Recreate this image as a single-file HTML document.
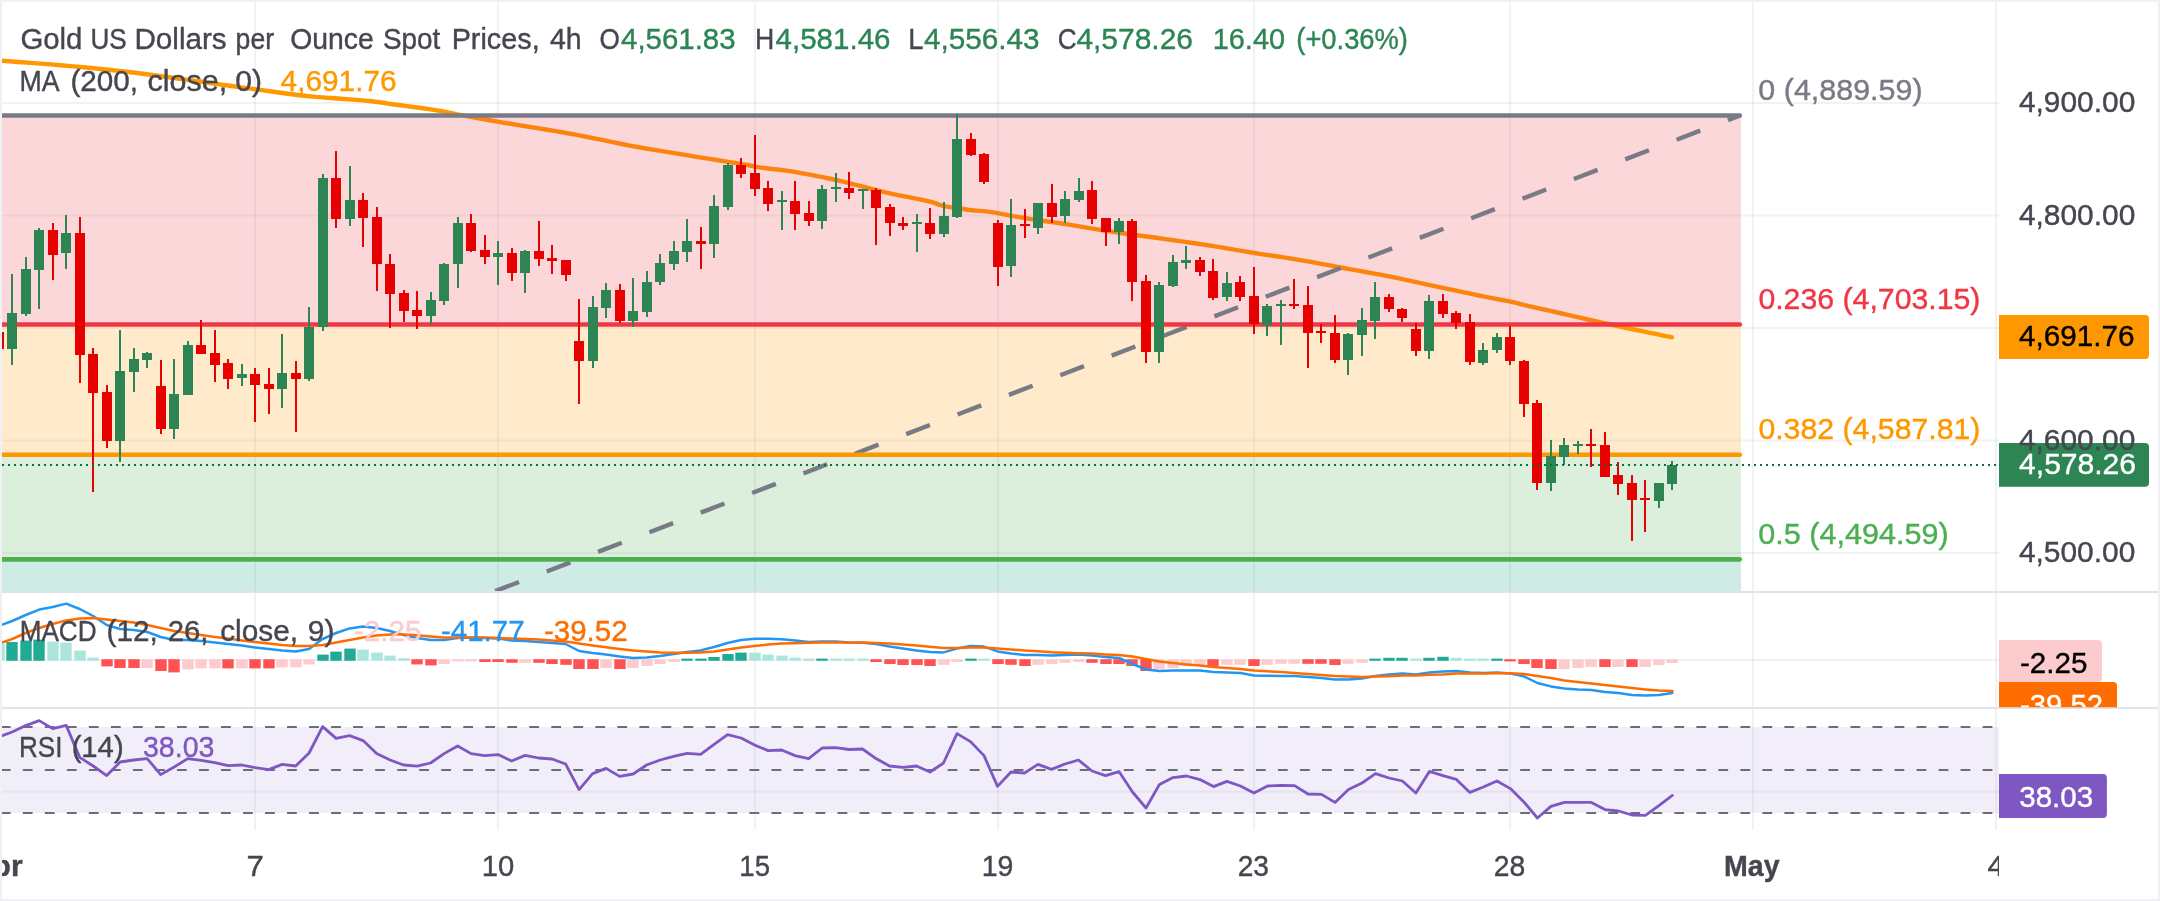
<!DOCTYPE html>
<html><head><meta charset="utf-8"><title>XAUUSD chart</title>
<style>html,body{margin:0;padding:0;background:#fff;width:2160px;height:901px}svg{will-change:transform}</style></head>
<body>
<svg width="2160" height="901" viewBox="0 0 2160 901" style="display:block;font-family:'Liberation Sans',sans-serif">
<defs>
<clipPath id="cMain"><rect x="2" y="2" width="1997" height="590"/></clipPath>
<clipPath id="cMacd"><rect x="2" y="593" width="1997" height="114.5"/></clipPath>
<clipPath id="cMacdAx"><rect x="1999" y="593" width="159" height="114.2"/></clipPath>
<clipPath id="cRsi"><rect x="2" y="709" width="1997" height="121"/></clipPath>
<clipPath id="cTime"><rect x="2" y="830" width="1997" height="69"/></clipPath>
</defs>
<rect x="0" y="0" width="2160" height="901" fill="#eff1f5"/>
<rect x="2" y="2" width="2156" height="897" fill="#ffffff"/>
<rect x="254" y="2" width="2" height="828" fill="rgba(30,60,70,0.062)"/>
<rect x="497" y="2" width="2" height="828" fill="rgba(30,60,70,0.062)"/>
<rect x="754" y="2" width="2" height="828" fill="rgba(30,60,70,0.062)"/>
<rect x="997" y="2" width="2" height="828" fill="rgba(30,60,70,0.062)"/>
<rect x="1253" y="2" width="2" height="828" fill="rgba(30,60,70,0.062)"/>
<rect x="1509" y="2" width="2" height="828" fill="rgba(30,60,70,0.062)"/>
<rect x="1752" y="2" width="2" height="828" fill="rgba(30,60,70,0.062)"/>
<rect x="1995" y="2" width="2" height="828" fill="rgba(30,60,70,0.062)"/>
<rect x="2" y="102.0" width="1997" height="2" fill="rgba(30,60,70,0.062)"/>
<rect x="2" y="214.5" width="1997" height="2" fill="rgba(30,60,70,0.062)"/>
<rect x="2" y="327.0" width="1997" height="2" fill="rgba(30,60,70,0.062)"/>
<rect x="2" y="439.5" width="1997" height="2" fill="rgba(30,60,70,0.062)"/>
<rect x="2" y="552.0" width="1997" height="2" fill="rgba(30,60,70,0.062)"/>
<rect x="2" y="659" width="1997" height="2" fill="rgba(30,60,70,0.062)"/>
<rect x="2" y="790.6" width="1997" height="2" fill="rgba(30,60,70,0.062)"/>
<g clip-path="url(#cMain)">
<polyline points="-3.0,60.3 -1.5,60.4 0.3,60.6 2.5,60.7 5.5,61.0 9.6,61.3 15.0,61.7 22.1,62.2 30.8,62.9 40.5,63.6 50.7,64.4 60.9,65.3 70.6,66.1 79.8,66.9 89.1,67.8 98.3,68.7 107.5,69.7 116.8,70.6 126.0,71.7 135.3,72.8 144.6,74.0 153.9,75.3 163.2,76.5 172.4,77.8 181.7,79.1 191.4,80.4 201.5,81.8 211.7,83.3 221.3,84.6 229.9,85.8 237.0,86.8 241.8,87.5 244.5,87.8 246.2,88.1 247.9,88.3 250.5,88.6 255.0,89.2 261.7,90.1 269.7,91.2 278.7,92.5 288.1,93.8 297.6,95.0 306.7,96.0 315.8,96.9 325.4,97.6 335.0,98.3 344.2,99.0 352.5,99.6 359.4,100.1 364.8,100.6 368.9,101.0 372.2,101.3 374.9,101.7 377.4,102.0 380.0,102.3 382.2,102.6 383.7,102.8 385.0,103.0 386.6,103.3 389.0,103.7 392.8,104.2 398.4,105.0 405.4,105.9 413.3,107.0 421.4,108.0 429.1,109.1 435.6,110.1 440.8,111.0 445.3,111.8 449.2,112.6 453.1,113.4 457.3,114.3 462.2,115.2 468.1,116.3 474.6,117.5 481.5,118.8 488.3,120.0 494.6,121.1 500.0,122.1 504.0,122.8 506.7,123.2 508.9,123.5 511.4,123.9 514.8,124.5 520.0,125.3 527.2,126.5 535.9,127.9 545.6,129.5 555.8,131.2 565.9,133.0 575.6,134.7 584.9,136.5 594.1,138.3 603.4,140.2 612.6,142.2 621.8,144.0 631.1,145.8 640.4,147.5 649.6,149.1 658.9,150.6 668.2,152.2 677.4,153.7 686.7,155.2 696.4,156.8 706.6,158.4 716.8,160.0 726.5,161.6 735.1,162.9 742.2,164.1 747.2,165.0 750.3,165.6 752.4,166.0 754.2,166.4 756.5,166.8 760.0,167.4 764.7,168.0 769.9,168.7 775.5,169.3 781.6,170.0 787.9,170.9 794.4,171.9 801.2,173.1 808.5,174.4 816.0,175.8 823.7,177.4 831.4,179.0 838.9,180.6 846.3,182.4 853.7,184.3 861.1,186.2 868.5,188.2 875.9,190.1 883.3,191.9 891.0,193.6 899.2,195.3 907.3,196.9 915.0,198.4 922.0,199.8 927.8,201.1 932.1,202.2 935.0,203.1 937.1,203.9 939.1,204.7 941.3,205.4 944.4,206.1 948.5,206.9 953.2,207.6 958.2,208.4 963.3,209.0 968.0,209.7 972.2,210.2 975.6,210.6 978.3,210.8 980.7,210.9 983.2,211.1 986.2,211.4 990.0,211.9 994.7,212.7 999.9,213.6 1005.5,214.6 1011.6,215.8 1017.9,216.9 1024.4,218.0 1031.2,219.1 1038.5,220.2 1046.0,221.3 1053.7,222.4 1061.4,223.5 1068.9,224.7 1076.3,225.9 1083.7,227.1 1091.1,228.3 1098.5,229.6 1105.9,230.8 1113.3,231.9 1120.7,233.0 1128.1,234.0 1135.5,235.0 1143.0,236.0 1150.4,237.0 1157.8,238.0 1165.5,239.1 1173.6,240.2 1181.7,241.4 1189.4,242.5 1196.3,243.5 1202.2,244.4 1206.5,245.0 1209.5,245.5 1211.7,245.8 1213.8,246.2 1216.4,246.6 1220.0,247.2 1224.7,248.0 1229.9,248.9 1235.5,249.8 1241.6,250.9 1247.9,251.9 1254.4,253.0 1261.2,254.1 1268.5,255.1 1276.0,256.2 1283.7,257.4 1291.4,258.6 1298.9,259.8 1306.3,261.1 1313.7,262.4 1321.1,263.8 1328.5,265.2 1335.9,266.6 1343.3,268.0 1350.7,269.3 1358.1,270.7 1365.5,272.0 1373.0,273.3 1380.4,274.7 1387.8,276.1 1395.5,277.7 1403.6,279.4 1411.7,281.1 1419.4,282.8 1426.3,284.3 1432.2,285.6 1436.5,286.5 1439.5,287.2 1441.7,287.6 1443.8,288.1 1446.4,288.6 1450.0,289.4 1454.8,290.4 1460.5,291.6 1466.6,292.9 1472.8,294.2 1478.9,295.5 1484.4,296.6 1489.5,297.6 1494.6,298.6 1499.4,299.5 1504.0,300.4 1508.3,301.2 1512.2,302.0 1515.3,302.7 1517.6,303.2 1519.5,303.8 1521.7,304.3 1524.6,305.1 1528.9,306.1 1534.7,307.4 1541.6,309.0 1549.4,310.7 1557.5,312.5 1565.6,314.4 1573.3,316.1 1580.7,317.8 1588.1,319.5 1595.5,321.2 1603.0,322.8 1610.4,324.5 1617.8,326.1 1625.6,327.8 1633.9,329.5 1642.2,331.2 1650.0,332.8 1656.8,334.2 1662.2,335.3 1665.9,336.1 1668.4,336.5 1669.8,336.8 1670.7,337.0 1671.2,337.1 1671.9,337.2" fill="none" stroke="#ff9800" stroke-width="4.4" stroke-linejoin="round" stroke-linecap="round"/>
<rect x="0" y="115.5" width="1741" height="208.95" fill="#f23645" fill-opacity="0.2"/>
<rect x="0" y="324.45" width="1741" height="130.25" fill="#ff9800" fill-opacity="0.2"/>
<rect x="0" y="454.7" width="1741" height="104.65000000000003" fill="#4caf50" fill-opacity="0.2"/>
<rect x="0" y="559.35" width="1741" height="40.64999999999998" fill="#089981" fill-opacity="0.2"/>
<line x1="392.62" y1="630.33" x2="1740" y2="115.5" stroke="#787b86" stroke-width="4.4" stroke-dasharray="25.37 29.61"/>
<line x1="-5" y1="115.5" x2="1739.8" y2="115.5" stroke="#787b86" stroke-width="4.6" stroke-linecap="round"/>
<line x1="-5" y1="324.45" x2="1739.8" y2="324.45" stroke="#f23645" stroke-width="4.6" stroke-linecap="round"/>
<line x1="-5" y1="454.7" x2="1739.8" y2="454.7" stroke="#ff9800" stroke-width="4.6" stroke-linecap="round"/>
<line x1="-5" y1="559.35" x2="1739.8" y2="559.35" stroke="#4caf50" stroke-width="4.6" stroke-linecap="round"/>
<rect x="-2" y="330.0" width="2" height="22.0" fill="#e60000"/>
<rect x="-6" y="332.0" width="10" height="17.0" fill="#e60000"/>
<rect x="11" y="274.0" width="2" height="91.0" fill="#2c8553"/>
<rect x="7" y="313.0" width="10" height="36.0" fill="#2c8553"/>
<rect x="25" y="257.0" width="2" height="59.0" fill="#2c8553"/>
<rect x="21" y="269.0" width="10" height="45.0" fill="#2c8553"/>
<rect x="38" y="228.0" width="2" height="81.0" fill="#2c8553"/>
<rect x="34" y="230.0" width="10" height="40.0" fill="#2c8553"/>
<rect x="52" y="223.0" width="2" height="57.0" fill="#e60000"/>
<rect x="48" y="230.0" width="10" height="25.0" fill="#e60000"/>
<rect x="65" y="215.0" width="2" height="54.0" fill="#2c8553"/>
<rect x="61" y="233.0" width="10" height="20.0" fill="#2c8553"/>
<rect x="79" y="217.0" width="2" height="166.0" fill="#e60000"/>
<rect x="75" y="233.0" width="10" height="122.0" fill="#e60000"/>
<rect x="92" y="348.0" width="2" height="144.0" fill="#e60000"/>
<rect x="88" y="354.0" width="10" height="39.0" fill="#e60000"/>
<rect x="106" y="385.0" width="2" height="63.0" fill="#e60000"/>
<rect x="102" y="392.0" width="10" height="49.0" fill="#e60000"/>
<rect x="119" y="330.0" width="2" height="132.0" fill="#2c8553"/>
<rect x="115" y="371.0" width="10" height="70.0" fill="#2c8553"/>
<rect x="133" y="348.0" width="2" height="44.0" fill="#2c8553"/>
<rect x="129" y="359.0" width="10" height="13.0" fill="#2c8553"/>
<rect x="146" y="352.0" width="2" height="16.0" fill="#2c8553"/>
<rect x="142" y="353.0" width="10" height="7.0" fill="#2c8553"/>
<rect x="160" y="360.0" width="2" height="74.0" fill="#e60000"/>
<rect x="156" y="386.0" width="10" height="43.0" fill="#e60000"/>
<rect x="173" y="359.0" width="2" height="80.0" fill="#2c8553"/>
<rect x="169" y="394.0" width="10" height="35.0" fill="#2c8553"/>
<rect x="187" y="341.0" width="2" height="54.0" fill="#2c8553"/>
<rect x="183" y="345.0" width="10" height="50.0" fill="#2c8553"/>
<rect x="200" y="320.0" width="2" height="34.0" fill="#e60000"/>
<rect x="196" y="345.0" width="10" height="9.0" fill="#e60000"/>
<rect x="214" y="330.0" width="2" height="52.0" fill="#e60000"/>
<rect x="210" y="353.0" width="10" height="12.0" fill="#e60000"/>
<rect x="227" y="359.0" width="2" height="30.0" fill="#e60000"/>
<rect x="223" y="363.0" width="10" height="16.0" fill="#e60000"/>
<rect x="241" y="364.0" width="2" height="22.0" fill="#2c8553"/>
<rect x="237" y="374.0" width="10" height="4.0" fill="#2c8553"/>
<rect x="254" y="368.0" width="2" height="54.0" fill="#e60000"/>
<rect x="250" y="374.0" width="10" height="11.0" fill="#e60000"/>
<rect x="268" y="368.0" width="2" height="46.0" fill="#e60000"/>
<rect x="264" y="384.0" width="10" height="5.0" fill="#e60000"/>
<rect x="281" y="334.0" width="2" height="74.0" fill="#2c8553"/>
<rect x="277" y="373.0" width="10" height="16.0" fill="#2c8553"/>
<rect x="295" y="361.0" width="2" height="71.0" fill="#e60000"/>
<rect x="291" y="373.0" width="10" height="6.0" fill="#e60000"/>
<rect x="308" y="307.0" width="2" height="74.0" fill="#2c8553"/>
<rect x="304" y="327.0" width="10" height="52.0" fill="#2c8553"/>
<rect x="322" y="174.0" width="2" height="157.0" fill="#2c8553"/>
<rect x="318" y="178.0" width="10" height="149.0" fill="#2c8553"/>
<rect x="335" y="151.0" width="2" height="77.0" fill="#e60000"/>
<rect x="331" y="178.0" width="10" height="41.0" fill="#e60000"/>
<rect x="349" y="166.0" width="2" height="60.0" fill="#2c8553"/>
<rect x="345" y="200.0" width="10" height="19.0" fill="#2c8553"/>
<rect x="362" y="193.0" width="2" height="54.0" fill="#e60000"/>
<rect x="358" y="200.0" width="10" height="18.0" fill="#e60000"/>
<rect x="376" y="207.0" width="2" height="84.0" fill="#e60000"/>
<rect x="372" y="217.0" width="10" height="47.0" fill="#e60000"/>
<rect x="389" y="254.0" width="2" height="74.0" fill="#e60000"/>
<rect x="385" y="264.0" width="10" height="30.0" fill="#e60000"/>
<rect x="403" y="290.0" width="2" height="32.0" fill="#e60000"/>
<rect x="399" y="293.0" width="10" height="18.0" fill="#e60000"/>
<rect x="416" y="291.0" width="2" height="38.0" fill="#e60000"/>
<rect x="412" y="310.0" width="10" height="6.0" fill="#e60000"/>
<rect x="430" y="292.0" width="2" height="32.0" fill="#2c8553"/>
<rect x="426" y="300.0" width="10" height="16.0" fill="#2c8553"/>
<rect x="443" y="263.0" width="2" height="42.0" fill="#2c8553"/>
<rect x="439" y="264.0" width="10" height="37.0" fill="#2c8553"/>
<rect x="457" y="217.0" width="2" height="71.0" fill="#2c8553"/>
<rect x="453" y="223.0" width="10" height="41.0" fill="#2c8553"/>
<rect x="470" y="214.0" width="2" height="38.0" fill="#e60000"/>
<rect x="466" y="223.0" width="10" height="28.0" fill="#e60000"/>
<rect x="484" y="235.0" width="2" height="29.0" fill="#e60000"/>
<rect x="480" y="250.0" width="10" height="7.0" fill="#e60000"/>
<rect x="497" y="241.0" width="2" height="44.0" fill="#2c8553"/>
<rect x="493" y="253.0" width="10" height="4.0" fill="#2c8553"/>
<rect x="511" y="248.0" width="2" height="33.0" fill="#e60000"/>
<rect x="507" y="253.0" width="10" height="20.0" fill="#e60000"/>
<rect x="524" y="250.0" width="2" height="43.0" fill="#2c8553"/>
<rect x="520" y="251.0" width="10" height="22.0" fill="#2c8553"/>
<rect x="538" y="221.0" width="2" height="45.0" fill="#e60000"/>
<rect x="534" y="251.0" width="10" height="8.0" fill="#e60000"/>
<rect x="551" y="245.0" width="2" height="29.0" fill="#e60000"/>
<rect x="547" y="258.0" width="10" height="3.0" fill="#e60000"/>
<rect x="565" y="260.0" width="2" height="21.0" fill="#e60000"/>
<rect x="561" y="260.0" width="10" height="15.0" fill="#e60000"/>
<rect x="578" y="299.0" width="2" height="105.0" fill="#e60000"/>
<rect x="574" y="341.0" width="10" height="20.0" fill="#e60000"/>
<rect x="592" y="296.0" width="2" height="72.0" fill="#2c8553"/>
<rect x="588" y="307.0" width="10" height="54.0" fill="#2c8553"/>
<rect x="605" y="283.0" width="2" height="35.0" fill="#2c8553"/>
<rect x="601" y="290.0" width="10" height="18.0" fill="#2c8553"/>
<rect x="619" y="284.0" width="2" height="39.0" fill="#e60000"/>
<rect x="615" y="290.0" width="10" height="31.0" fill="#e60000"/>
<rect x="632" y="278.0" width="2" height="49.0" fill="#2c8553"/>
<rect x="628" y="311.0" width="10" height="10.0" fill="#2c8553"/>
<rect x="646" y="271.0" width="2" height="46.0" fill="#2c8553"/>
<rect x="642" y="282.0" width="10" height="30.0" fill="#2c8553"/>
<rect x="659" y="254.0" width="2" height="31.0" fill="#2c8553"/>
<rect x="655" y="263.0" width="10" height="19.0" fill="#2c8553"/>
<rect x="673" y="241.0" width="2" height="29.0" fill="#2c8553"/>
<rect x="669" y="251.0" width="10" height="13.0" fill="#2c8553"/>
<rect x="686" y="219.0" width="2" height="43.0" fill="#2c8553"/>
<rect x="682" y="241.0" width="10" height="11.0" fill="#2c8553"/>
<rect x="700" y="227.0" width="2" height="42.0" fill="#e60000"/>
<rect x="696" y="241.0" width="10" height="3.0" fill="#e60000"/>
<rect x="713" y="195.0" width="2" height="63.0" fill="#2c8553"/>
<rect x="709" y="206.0" width="10" height="38.0" fill="#2c8553"/>
<rect x="727" y="163.0" width="2" height="47.0" fill="#2c8553"/>
<rect x="723" y="165.0" width="10" height="42.0" fill="#2c8553"/>
<rect x="740" y="158.0" width="2" height="20.0" fill="#e60000"/>
<rect x="736" y="165.0" width="10" height="9.0" fill="#e60000"/>
<rect x="754" y="135.0" width="2" height="61.0" fill="#e60000"/>
<rect x="750" y="173.0" width="10" height="16.0" fill="#e60000"/>
<rect x="767" y="181.0" width="2" height="30.0" fill="#e60000"/>
<rect x="763" y="188.0" width="10" height="16.0" fill="#e60000"/>
<rect x="781" y="191.0" width="2" height="39.0" fill="#2c8553"/>
<rect x="777" y="200.0" width="10" height="2.0" fill="#2c8553"/>
<rect x="794" y="181.0" width="2" height="49.0" fill="#e60000"/>
<rect x="790" y="201.0" width="10" height="13.0" fill="#e60000"/>
<rect x="808" y="201.0" width="2" height="25.0" fill="#e60000"/>
<rect x="804" y="213.0" width="10" height="8.0" fill="#e60000"/>
<rect x="821" y="185.0" width="2" height="44.0" fill="#2c8553"/>
<rect x="817" y="189.0" width="10" height="32.0" fill="#2c8553"/>
<rect x="835" y="173.0" width="2" height="29.0" fill="#2c8553"/>
<rect x="831" y="187.0" width="10" height="2.0" fill="#2c8553"/>
<rect x="848" y="172.0" width="2" height="27.0" fill="#e60000"/>
<rect x="844" y="188.0" width="10" height="5.0" fill="#e60000"/>
<rect x="862" y="189.0" width="2" height="20.0" fill="#2c8553"/>
<rect x="858" y="189.0" width="10" height="2.0" fill="#2c8553"/>
<rect x="875" y="188.0" width="2" height="57.0" fill="#e60000"/>
<rect x="871" y="190.0" width="10" height="18.0" fill="#e60000"/>
<rect x="889" y="204.0" width="2" height="32.0" fill="#e60000"/>
<rect x="885" y="207.0" width="10" height="16.0" fill="#e60000"/>
<rect x="902" y="217.0" width="2" height="13.0" fill="#e60000"/>
<rect x="898" y="223.0" width="10" height="3.0" fill="#e60000"/>
<rect x="916" y="214.0" width="2" height="38.0" fill="#2c8553"/>
<rect x="912" y="222.0" width="10" height="2.0" fill="#2c8553"/>
<rect x="929" y="208.0" width="2" height="31.0" fill="#e60000"/>
<rect x="925" y="223.0" width="10" height="11.0" fill="#e60000"/>
<rect x="943" y="202.0" width="2" height="35.0" fill="#2c8553"/>
<rect x="939" y="216.0" width="10" height="18.0" fill="#2c8553"/>
<rect x="956" y="114.0" width="2" height="104.0" fill="#2c8553"/>
<rect x="952" y="139.0" width="10" height="78.0" fill="#2c8553"/>
<rect x="970" y="133.0" width="2" height="23.0" fill="#e60000"/>
<rect x="966" y="139.0" width="10" height="16.0" fill="#e60000"/>
<rect x="983" y="153.0" width="2" height="31.0" fill="#e60000"/>
<rect x="979" y="154.0" width="10" height="28.0" fill="#e60000"/>
<rect x="997" y="220.0" width="2" height="66.0" fill="#e60000"/>
<rect x="993" y="223.0" width="10" height="44.0" fill="#e60000"/>
<rect x="1010" y="199.0" width="2" height="78.0" fill="#2c8553"/>
<rect x="1006" y="225.0" width="10" height="41.0" fill="#2c8553"/>
<rect x="1024" y="209.0" width="2" height="29.0" fill="#e60000"/>
<rect x="1020" y="224.0" width="10" height="2.0" fill="#e60000"/>
<rect x="1037" y="203.0" width="2" height="31.0" fill="#2c8553"/>
<rect x="1033" y="203.0" width="10" height="25.0" fill="#2c8553"/>
<rect x="1051" y="184.0" width="2" height="39.0" fill="#e60000"/>
<rect x="1047" y="203.0" width="10" height="14.0" fill="#e60000"/>
<rect x="1064" y="191.0" width="2" height="32.0" fill="#2c8553"/>
<rect x="1060" y="199.0" width="10" height="17.0" fill="#2c8553"/>
<rect x="1078" y="178.0" width="2" height="24.0" fill="#2c8553"/>
<rect x="1074" y="191.0" width="10" height="9.0" fill="#2c8553"/>
<rect x="1091" y="181.0" width="2" height="43.0" fill="#e60000"/>
<rect x="1087" y="190.0" width="10" height="29.0" fill="#e60000"/>
<rect x="1105" y="218.0" width="2" height="28.0" fill="#e60000"/>
<rect x="1101" y="218.0" width="10" height="14.0" fill="#e60000"/>
<rect x="1118" y="218.0" width="2" height="26.0" fill="#2c8553"/>
<rect x="1114" y="221.0" width="10" height="11.0" fill="#2c8553"/>
<rect x="1131" y="219.0" width="2" height="82.0" fill="#e60000"/>
<rect x="1127" y="221.0" width="10" height="61.0" fill="#e60000"/>
<rect x="1145" y="275.0" width="2" height="88.0" fill="#e60000"/>
<rect x="1141" y="281.0" width="10" height="71.0" fill="#e60000"/>
<rect x="1158" y="282.0" width="2" height="81.0" fill="#2c8553"/>
<rect x="1154" y="285.0" width="10" height="67.0" fill="#2c8553"/>
<rect x="1172" y="255.0" width="2" height="32.0" fill="#2c8553"/>
<rect x="1168" y="262.0" width="10" height="24.0" fill="#2c8553"/>
<rect x="1185" y="246.0" width="2" height="23.0" fill="#2c8553"/>
<rect x="1181" y="260.0" width="10" height="3.0" fill="#2c8553"/>
<rect x="1199" y="257.0" width="2" height="19.0" fill="#e60000"/>
<rect x="1195" y="260.0" width="10" height="12.0" fill="#e60000"/>
<rect x="1212" y="259.0" width="2" height="41.0" fill="#e60000"/>
<rect x="1208" y="271.0" width="10" height="27.0" fill="#e60000"/>
<rect x="1226" y="272.0" width="2" height="29.0" fill="#2c8553"/>
<rect x="1222" y="283.0" width="10" height="14.0" fill="#2c8553"/>
<rect x="1239" y="276.0" width="2" height="25.0" fill="#e60000"/>
<rect x="1235" y="282.0" width="10" height="15.0" fill="#e60000"/>
<rect x="1253" y="267.0" width="2" height="67.0" fill="#e60000"/>
<rect x="1249" y="296.0" width="10" height="28.0" fill="#e60000"/>
<rect x="1266" y="304.0" width="2" height="32.0" fill="#2c8553"/>
<rect x="1262" y="306.0" width="10" height="19.0" fill="#2c8553"/>
<rect x="1280" y="300.0" width="2" height="45.0" fill="#2c8553"/>
<rect x="1276" y="304.0" width="10" height="2.0" fill="#2c8553"/>
<rect x="1293" y="279.0" width="2" height="30.0" fill="#e60000"/>
<rect x="1289" y="304.0" width="10" height="2.0" fill="#e60000"/>
<rect x="1307" y="286.0" width="2" height="82.0" fill="#e60000"/>
<rect x="1303" y="305.0" width="10" height="28.0" fill="#e60000"/>
<rect x="1320" y="324.0" width="2" height="19.0" fill="#e60000"/>
<rect x="1316" y="331.0" width="10" height="2.0" fill="#e60000"/>
<rect x="1334" y="315.0" width="2" height="48.0" fill="#e60000"/>
<rect x="1330" y="333.0" width="10" height="27.0" fill="#e60000"/>
<rect x="1347" y="333.0" width="2" height="42.0" fill="#2c8553"/>
<rect x="1343" y="334.0" width="10" height="26.0" fill="#2c8553"/>
<rect x="1361" y="308.0" width="2" height="48.0" fill="#2c8553"/>
<rect x="1357" y="320.0" width="10" height="15.0" fill="#2c8553"/>
<rect x="1374" y="282.0" width="2" height="57.0" fill="#2c8553"/>
<rect x="1370" y="297.0" width="10" height="24.0" fill="#2c8553"/>
<rect x="1388" y="294.0" width="2" height="18.0" fill="#e60000"/>
<rect x="1384" y="297.0" width="10" height="12.0" fill="#e60000"/>
<rect x="1401" y="308.0" width="2" height="14.0" fill="#e60000"/>
<rect x="1397" y="309.0" width="10" height="9.0" fill="#e60000"/>
<rect x="1415" y="323.0" width="2" height="33.0" fill="#e60000"/>
<rect x="1411" y="329.0" width="10" height="22.0" fill="#e60000"/>
<rect x="1428" y="295.0" width="2" height="64.0" fill="#2c8553"/>
<rect x="1424" y="301.0" width="10" height="50.0" fill="#2c8553"/>
<rect x="1442" y="294.0" width="2" height="24.0" fill="#e60000"/>
<rect x="1438" y="301.0" width="10" height="13.0" fill="#e60000"/>
<rect x="1455" y="311.0" width="2" height="18.0" fill="#e60000"/>
<rect x="1451" y="313.0" width="10" height="10.0" fill="#e60000"/>
<rect x="1469" y="314.0" width="2" height="51.0" fill="#e60000"/>
<rect x="1465" y="322.0" width="10" height="40.0" fill="#e60000"/>
<rect x="1482" y="343.0" width="2" height="22.0" fill="#2c8553"/>
<rect x="1478" y="350.0" width="10" height="13.0" fill="#2c8553"/>
<rect x="1496" y="333.0" width="2" height="20.0" fill="#2c8553"/>
<rect x="1492" y="337.0" width="10" height="13.0" fill="#2c8553"/>
<rect x="1509" y="326.0" width="2" height="39.0" fill="#e60000"/>
<rect x="1505" y="337.0" width="10" height="24.0" fill="#e60000"/>
<rect x="1523" y="360.0" width="2" height="57.0" fill="#e60000"/>
<rect x="1519" y="361.0" width="10" height="43.0" fill="#e60000"/>
<rect x="1536" y="400.0" width="2" height="90.0" fill="#e60000"/>
<rect x="1532" y="403.0" width="10" height="80.0" fill="#e60000"/>
<rect x="1550" y="440.0" width="2" height="51.0" fill="#2c8553"/>
<rect x="1546" y="456.0" width="10" height="27.0" fill="#2c8553"/>
<rect x="1563" y="438.0" width="2" height="27.0" fill="#2c8553"/>
<rect x="1559" y="445.0" width="10" height="12.0" fill="#2c8553"/>
<rect x="1577" y="441.0" width="2" height="13.0" fill="#2c8553"/>
<rect x="1573" y="444.0" width="10" height="2.0" fill="#2c8553"/>
<rect x="1590" y="429.0" width="2" height="38.0" fill="#e60000"/>
<rect x="1586" y="444.0" width="10" height="2.0" fill="#e60000"/>
<rect x="1604" y="432.0" width="2" height="45.0" fill="#e60000"/>
<rect x="1600" y="445.0" width="10" height="32.0" fill="#e60000"/>
<rect x="1617" y="462.0" width="2" height="33.0" fill="#e60000"/>
<rect x="1613" y="475.0" width="10" height="9.0" fill="#e60000"/>
<rect x="1631" y="475.0" width="2" height="66.0" fill="#e60000"/>
<rect x="1627" y="483.0" width="10" height="17.0" fill="#e60000"/>
<rect x="1644" y="480.0" width="2" height="52.0" fill="#e60000"/>
<rect x="1640" y="498.0" width="10" height="2.0" fill="#e60000"/>
<rect x="1658" y="483.0" width="2" height="25.0" fill="#2c8553"/>
<rect x="1654" y="483.0" width="10" height="18.0" fill="#2c8553"/>
<rect x="1671" y="461.0" width="2" height="29.0" fill="#2c8553"/>
<rect x="1667" y="465.0" width="10" height="19.0" fill="#2c8553"/>
<line x1="2" y1="465" x2="1999" y2="465" stroke="#08703a" stroke-width="2" stroke-dasharray="2 4"/>
</g>
<rect x="2" y="591" width="2156" height="2" fill="#e0e3eb"/>
<rect x="2" y="707" width="2156" height="2" fill="#e0e3eb"/>
<g clip-path="url(#cMacd)">
<rect x="-6.7" y="643.6" width="11.4" height="17.2" fill="#ace5dc"/>
<rect x="6.3" y="642.0" width="11.4" height="18.8" fill="#22ab94"/>
<rect x="20.3" y="640.6" width="11.4" height="20.2" fill="#22ab94"/>
<rect x="33.3" y="639.6" width="11.4" height="21.2" fill="#22ab94"/>
<rect x="47.3" y="641.6" width="11.4" height="19.2" fill="#ace5dc"/>
<rect x="60.3" y="642.6" width="11.4" height="18.2" fill="#ace5dc"/>
<rect x="74.3" y="650.6" width="11.4" height="10.2" fill="#ace5dc"/>
<rect x="87.3" y="657.6" width="11.4" height="3.2" fill="#ace5dc"/>
<rect x="101.3" y="659.2" width="11.4" height="7.2" fill="#ff5252"/>
<rect x="114.3" y="659.2" width="11.4" height="8.8" fill="#ff5252"/>
<rect x="128.3" y="659.2" width="11.4" height="8.8" fill="#ff5252"/>
<rect x="141.3" y="659.2" width="11.4" height="8.8" fill="#fccbcd"/>
<rect x="155.3" y="659.2" width="11.4" height="11.8" fill="#ff5252"/>
<rect x="168.3" y="659.2" width="11.4" height="13.2" fill="#ff5252"/>
<rect x="182.3" y="659.2" width="11.4" height="10.2" fill="#fccbcd"/>
<rect x="195.3" y="659.2" width="11.4" height="9.2" fill="#fccbcd"/>
<rect x="209.3" y="659.2" width="11.4" height="9.2" fill="#fccbcd"/>
<rect x="222.3" y="659.2" width="11.4" height="9.2" fill="#ff5252"/>
<rect x="236.3" y="659.2" width="11.4" height="9.2" fill="#fccbcd"/>
<rect x="249.3" y="659.2" width="11.4" height="9.2" fill="#ff5252"/>
<rect x="263.3" y="659.2" width="11.4" height="9.2" fill="#ff5252"/>
<rect x="276.3" y="659.2" width="11.4" height="8.2" fill="#fccbcd"/>
<rect x="290.3" y="659.2" width="11.4" height="8.2" fill="#fccbcd"/>
<rect x="303.3" y="659.2" width="11.4" height="5.2" fill="#fccbcd"/>
<rect x="317.3" y="654.6" width="11.4" height="6.2" fill="#22ab94"/>
<rect x="330.3" y="651.6" width="11.4" height="9.2" fill="#22ab94"/>
<rect x="344.3" y="648.6" width="11.4" height="12.2" fill="#22ab94"/>
<rect x="357.3" y="649.6" width="11.4" height="11.2" fill="#ace5dc"/>
<rect x="371.3" y="652.6" width="11.4" height="8.2" fill="#ace5dc"/>
<rect x="384.3" y="655.6" width="11.4" height="5.2" fill="#ace5dc"/>
<rect x="398.3" y="658.2" width="11.4" height="2.6" fill="#ace5dc"/>
<rect x="411.3" y="659.2" width="11.4" height="5.2" fill="#ff5252"/>
<rect x="425.3" y="659.2" width="11.4" height="6.2" fill="#ff5252"/>
<rect x="438.3" y="659.2" width="11.4" height="4.8" fill="#fccbcd"/>
<rect x="452.3" y="659.2" width="11.4" height="2.2" fill="#fccbcd"/>
<rect x="465.3" y="659.2" width="11.4" height="2.2" fill="#fccbcd"/>
<rect x="479.3" y="659.2" width="11.4" height="2.8" fill="#ff5252"/>
<rect x="492.3" y="659.2" width="11.4" height="2.8" fill="#ff5252"/>
<rect x="506.3" y="659.2" width="11.4" height="3.6" fill="#ff5252"/>
<rect x="519.3" y="659.2" width="11.4" height="3.6" fill="#fccbcd"/>
<rect x="533.3" y="659.2" width="11.4" height="3.6" fill="#ff5252"/>
<rect x="546.3" y="659.2" width="11.4" height="4.8" fill="#ff5252"/>
<rect x="560.3" y="659.2" width="11.4" height="5.6" fill="#ff5252"/>
<rect x="573.3" y="659.2" width="11.4" height="9.8" fill="#ff5252"/>
<rect x="587.3" y="659.2" width="11.4" height="9.8" fill="#ff5252"/>
<rect x="600.3" y="659.2" width="11.4" height="8.8" fill="#fccbcd"/>
<rect x="614.3" y="659.2" width="11.4" height="9.8" fill="#ff5252"/>
<rect x="627.3" y="659.2" width="11.4" height="8.8" fill="#fccbcd"/>
<rect x="641.3" y="659.2" width="11.4" height="6.8" fill="#fccbcd"/>
<rect x="654.3" y="659.2" width="11.4" height="4.8" fill="#fccbcd"/>
<rect x="668.3" y="659.2" width="11.4" height="2.8" fill="#fccbcd"/>
<rect x="681.3" y="658.6" width="11.4" height="2.2" fill="#22ab94"/>
<rect x="695.3" y="658.6" width="11.4" height="2.2" fill="#22ab94"/>
<rect x="708.3" y="657.0" width="11.4" height="3.8" fill="#22ab94"/>
<rect x="722.3" y="654.0" width="11.4" height="6.8" fill="#22ab94"/>
<rect x="735.3" y="652.6" width="11.4" height="8.2" fill="#22ab94"/>
<rect x="749.3" y="652.6" width="11.4" height="8.2" fill="#ace5dc"/>
<rect x="762.3" y="654.6" width="11.4" height="6.2" fill="#ace5dc"/>
<rect x="776.3" y="655.6" width="11.4" height="5.2" fill="#ace5dc"/>
<rect x="789.3" y="657.6" width="11.4" height="3.2" fill="#ace5dc"/>
<rect x="803.3" y="658.6" width="11.4" height="2.2" fill="#ace5dc"/>
<rect x="816.3" y="658.6" width="11.4" height="2.2" fill="#22ab94"/>
<rect x="830.3" y="658.6" width="11.4" height="2.2" fill="#ace5dc"/>
<rect x="843.3" y="658.6" width="11.4" height="2.2" fill="#ace5dc"/>
<rect x="857.3" y="658.6" width="11.4" height="2.2" fill="#ace5dc"/>
<rect x="870.3" y="659.2" width="11.4" height="2.8" fill="#ff5252"/>
<rect x="884.3" y="659.2" width="11.4" height="4.8" fill="#ff5252"/>
<rect x="897.3" y="659.2" width="11.4" height="5.8" fill="#ff5252"/>
<rect x="911.3" y="659.2" width="11.4" height="5.8" fill="#ff5252"/>
<rect x="924.3" y="659.2" width="11.4" height="6.8" fill="#ff5252"/>
<rect x="938.3" y="659.2" width="11.4" height="5.6" fill="#fccbcd"/>
<rect x="951.3" y="659.2" width="11.4" height="2.8" fill="#fccbcd"/>
<rect x="965.3" y="658.6" width="11.4" height="2.2" fill="#22ab94"/>
<rect x="978.3" y="658.6" width="11.4" height="2.2" fill="#ace5dc"/>
<rect x="992.3" y="659.2" width="11.4" height="4.8" fill="#ff5252"/>
<rect x="1005.3" y="659.2" width="11.4" height="5.6" fill="#ff5252"/>
<rect x="1019.3" y="659.2" width="11.4" height="6.8" fill="#ff5252"/>
<rect x="1032.3" y="659.2" width="11.4" height="5.6" fill="#fccbcd"/>
<rect x="1046.3" y="659.2" width="11.4" height="4.8" fill="#fccbcd"/>
<rect x="1059.3" y="659.2" width="11.4" height="3.6" fill="#fccbcd"/>
<rect x="1073.3" y="659.2" width="11.4" height="2.8" fill="#fccbcd"/>
<rect x="1086.3" y="659.2" width="11.4" height="3.6" fill="#ff5252"/>
<rect x="1100.3" y="659.2" width="11.4" height="4.8" fill="#ff5252"/>
<rect x="1113.3" y="659.2" width="11.4" height="4.8" fill="#ff5252"/>
<rect x="1126.3" y="659.2" width="11.4" height="6.8" fill="#ff5252"/>
<rect x="1140.3" y="659.2" width="11.4" height="11.8" fill="#ff5252"/>
<rect x="1153.3" y="659.2" width="11.4" height="9.8" fill="#fccbcd"/>
<rect x="1167.3" y="659.2" width="11.4" height="8.8" fill="#fccbcd"/>
<rect x="1180.3" y="659.2" width="11.4" height="6.8" fill="#fccbcd"/>
<rect x="1194.3" y="659.2" width="11.4" height="5.6" fill="#fccbcd"/>
<rect x="1207.3" y="659.2" width="11.4" height="6.8" fill="#ff5252"/>
<rect x="1221.3" y="659.2" width="11.4" height="5.6" fill="#fccbcd"/>
<rect x="1234.3" y="659.2" width="11.4" height="5.6" fill="#fccbcd"/>
<rect x="1248.3" y="659.2" width="11.4" height="6.8" fill="#ff5252"/>
<rect x="1261.3" y="659.2" width="11.4" height="5.6" fill="#fccbcd"/>
<rect x="1275.3" y="659.2" width="11.4" height="4.6" fill="#fccbcd"/>
<rect x="1288.3" y="659.2" width="11.4" height="4.6" fill="#fccbcd"/>
<rect x="1302.3" y="659.2" width="11.4" height="4.6" fill="#ff5252"/>
<rect x="1315.3" y="659.2" width="11.4" height="4.6" fill="#ff5252"/>
<rect x="1329.3" y="659.2" width="11.4" height="5.8" fill="#ff5252"/>
<rect x="1342.3" y="659.2" width="11.4" height="4.6" fill="#fccbcd"/>
<rect x="1356.3" y="659.2" width="11.4" height="3.6" fill="#fccbcd"/>
<rect x="1369.3" y="658.6" width="11.4" height="2.2" fill="#22ab94"/>
<rect x="1383.3" y="657.8" width="11.4" height="3.0" fill="#22ab94"/>
<rect x="1396.3" y="657.8" width="11.4" height="3.0" fill="#22ab94"/>
<rect x="1410.3" y="658.6" width="11.4" height="2.2" fill="#ace5dc"/>
<rect x="1423.3" y="657.8" width="11.4" height="3.0" fill="#22ab94"/>
<rect x="1437.3" y="656.8" width="11.4" height="4.0" fill="#22ab94"/>
<rect x="1450.3" y="657.8" width="11.4" height="3.0" fill="#ace5dc"/>
<rect x="1464.3" y="658.6" width="11.4" height="2.2" fill="#ace5dc"/>
<rect x="1477.3" y="658.6" width="11.4" height="2.2" fill="#ace5dc"/>
<rect x="1491.3" y="658.6" width="11.4" height="2.2" fill="#22ab94"/>
<rect x="1504.3" y="659.2" width="11.4" height="2.2" fill="#ff5252"/>
<rect x="1518.3" y="659.2" width="11.4" height="4.8" fill="#ff5252"/>
<rect x="1531.3" y="659.2" width="11.4" height="8.8" fill="#ff5252"/>
<rect x="1545.3" y="659.2" width="11.4" height="9.8" fill="#ff5252"/>
<rect x="1558.3" y="659.2" width="11.4" height="9.8" fill="#fccbcd"/>
<rect x="1572.3" y="659.2" width="11.4" height="8.8" fill="#fccbcd"/>
<rect x="1585.3" y="659.2" width="11.4" height="7.8" fill="#fccbcd"/>
<rect x="1599.3" y="659.2" width="11.4" height="7.8" fill="#ff5252"/>
<rect x="1612.3" y="659.2" width="11.4" height="7.8" fill="#fccbcd"/>
<rect x="1626.3" y="659.2" width="11.4" height="7.8" fill="#ff5252"/>
<rect x="1639.3" y="659.2" width="11.4" height="7.8" fill="#fccbcd"/>
<rect x="1653.3" y="659.2" width="11.4" height="5.8" fill="#fccbcd"/>
<rect x="1666.3" y="659.2" width="11.4" height="3.8" fill="#fccbcd"/>
<polyline points="-1.3,626.0 12.2,621.0 25.7,615.0 39.2,609.6 52.7,607.0 66.2,603.6 79.7,609.0 93.2,616.0 106.7,625.0 120.2,629.0 133.7,630.0 147.2,632.0 160.7,637.0 174.2,640.0 187.7,640.0 201.2,641.0 214.7,642.4 228.2,644.0 241.7,645.6 255.2,647.4 268.7,649.0 282.2,650.4 295.7,651.4 309.1,649.0 322.6,639.0 336.1,633.0 349.6,628.4 363.1,626.6 376.6,628.0 390.1,631.0 403.6,635.0 417.1,638.0 430.6,640.0 444.1,640.0 457.6,638.0 471.1,637.4 484.6,638.0 498.1,638.6 511.6,640.4 525.1,641.0 538.6,642.0 552.1,643.0 565.6,644.0 579.1,651.0 592.6,653.0 606.1,654.4 619.6,656.6 633.1,658.0 646.6,657.4 660.1,656.0 673.6,654.0 687.1,652.0 700.6,650.4 714.1,647.0 727.6,643.0 741.1,640.0 754.6,638.8 768.1,638.8 781.6,639.2 795.1,640.4 808.6,642.0 822.1,641.6 835.6,641.6 849.0,642.4 862.5,642.8 876.0,644.0 889.5,646.4 903.0,648.4 916.5,650.4 930.0,652.0 943.5,652.4 957.0,648.6 970.5,646.0 984.0,646.6 997.5,651.4 1011.0,653.4 1024.5,655.0 1038.0,655.0 1051.5,655.4 1065.0,655.0 1078.5,654.6 1092.0,655.6 1105.5,657.0 1119.0,658.0 1132.5,664.0 1146.0,669.4 1159.5,671.0 1173.0,670.6 1186.5,670.4 1200.0,670.4 1213.5,672.0 1227.0,672.4 1240.5,673.0 1254.0,675.4 1267.5,675.8 1281.0,676.0 1294.5,676.0 1308.0,677.0 1321.5,678.0 1335.0,679.6 1348.5,679.4 1362.0,678.4 1375.5,676.0 1389.0,674.4 1402.4,673.6 1415.9,674.4 1429.4,672.6 1442.9,671.6 1456.4,671.0 1469.9,672.6 1483.4,673.0 1496.9,672.6 1510.4,673.6 1523.9,676.4 1537.4,683.0 1550.9,686.4 1564.4,688.4 1577.9,689.4 1591.4,690.0 1604.9,692.0 1618.4,693.0 1631.9,695.0 1645.4,695.6 1658.9,695.0 1672.4,693.0" fill="none" stroke="#2196f3" stroke-width="2.5" stroke-linejoin="round" stroke-linecap="round"/>
<polyline points="-1.3,643.6 12.2,639.0 25.7,633.0 39.2,628.0 52.7,624.0 66.2,620.4 79.7,618.4 93.2,618.0 106.7,619.6 120.2,621.0 133.7,622.4 147.2,625.0 160.7,628.0 174.2,631.0 187.7,633.0 201.2,635.0 214.7,637.0 228.2,638.6 241.7,640.4 255.2,642.0 268.7,643.6 282.2,645.0 295.7,646.0 309.1,646.0 322.6,645.0 336.1,642.4 349.6,640.0 363.1,637.6 376.6,635.6 390.1,634.4 403.6,634.4 417.1,635.2 430.6,636.4 444.1,637.4 457.6,637.6 471.1,637.6 484.6,637.6 498.1,638.0 511.6,638.6 525.1,639.0 538.6,639.6 552.1,640.4 565.6,641.6 579.1,643.6 592.6,645.4 606.1,647.2 619.6,649.0 633.1,650.6 646.6,651.6 660.1,652.4 673.6,652.8 687.1,652.8 700.6,652.4 714.1,651.4 727.6,649.6 741.1,647.6 754.6,646.0 768.1,644.6 781.6,643.6 795.1,643.2 808.6,642.8 822.1,642.6 835.6,642.4 849.0,642.4 862.5,642.4 876.0,643.0 889.5,643.6 903.0,644.6 916.5,645.6 930.0,646.8 943.5,648.0 957.0,648.0 970.5,647.6 984.0,647.6 997.5,648.4 1011.0,649.4 1024.5,650.4 1038.0,651.2 1051.5,652.2 1065.0,652.8 1078.5,653.2 1092.0,653.6 1105.5,654.4 1119.0,655.0 1132.5,656.4 1146.0,659.0 1159.5,661.4 1173.0,663.0 1186.5,664.4 1200.0,665.6 1213.5,667.0 1227.0,668.0 1240.5,669.0 1254.0,670.4 1267.5,671.3 1281.0,672.0 1294.5,673.0 1308.0,674.0 1321.5,675.0 1335.0,676.0 1348.5,676.6 1362.0,677.0 1375.5,676.6 1389.0,676.2 1402.4,675.6 1415.9,675.4 1429.4,674.8 1442.9,674.4 1456.4,673.6 1469.9,673.4 1483.4,673.4 1496.9,673.2 1510.4,673.2 1523.9,674.0 1537.4,676.0 1550.9,678.0 1564.4,680.4 1577.9,682.0 1591.4,683.6 1604.9,685.0 1618.4,686.4 1631.9,688.0 1645.4,689.4 1658.9,690.6 1672.4,691.0" fill="none" stroke="#ff6d00" stroke-width="2.5" stroke-linejoin="round" stroke-linecap="round"/>
</g>
<g clip-path="url(#cRsi)">
<rect x="0" y="727" width="1999" height="86" fill="#7e57c2" fill-opacity="0.1"/>
<line x1="0.8" y1="727" x2="1999" y2="727" stroke="#6b6e79" stroke-width="2.2" stroke-dasharray="9.8 12.22"/>
<line x1="0.8" y1="770" x2="1999" y2="770" stroke="#6b6e79" stroke-width="2.2" stroke-dasharray="9.8 12.22"/>
<line x1="0.8" y1="813" x2="1999" y2="813" stroke="#6b6e79" stroke-width="2.2" stroke-dasharray="9.8 12.22"/>
<polyline points="-1.3,737.0 12.2,732.0 25.7,725.6 39.2,720.6 52.7,728.6 66.2,725.4 79.7,757.4 93.2,766.0 106.7,775.6 120.2,762.0 133.7,760.0 147.2,758.6 160.7,774.6 174.2,767.0 187.7,758.6 201.2,760.4 214.7,762.6 228.2,765.6 241.7,765.0 255.2,767.6 268.7,769.6 282.2,764.4 295.7,766.0 309.1,753.0 322.6,726.6 336.1,738.4 349.6,735.6 363.1,740.6 376.6,753.4 390.1,760.0 403.6,765.0 417.1,766.2 430.6,763.0 444.1,753.6 457.6,746.0 471.1,753.6 484.6,755.6 498.1,754.6 511.6,761.0 525.1,755.4 538.6,758.0 552.1,759.0 565.6,764.0 579.1,789.6 592.6,773.6 606.1,768.4 619.6,776.4 633.1,774.0 646.6,765.0 660.1,760.0 673.6,756.4 687.1,753.4 700.6,754.4 714.1,744.4 727.6,734.6 741.1,738.0 754.6,745.0 768.1,750.6 781.6,750.0 795.1,755.6 808.6,758.6 822.1,748.0 835.6,747.6 849.0,749.5 862.5,749.0 876.0,758.6 889.5,766.0 903.0,767.4 916.5,766.0 930.0,772.0 943.5,763.0 957.0,733.6 970.5,741.6 984.0,755.6 997.5,786.4 1011.0,772.0 1024.5,773.0 1038.0,764.4 1051.5,769.4 1065.0,764.0 1078.5,760.0 1092.0,771.0 1105.5,775.6 1119.0,771.6 1132.5,792.0 1146.0,808.0 1159.5,784.4 1173.0,777.6 1186.5,776.0 1200.0,779.6 1213.5,786.6 1227.0,781.4 1240.5,786.0 1254.0,793.0 1267.5,786.0 1281.0,785.4 1294.5,785.6 1308.0,794.0 1321.5,794.4 1335.0,802.4 1348.5,789.6 1362.0,783.0 1375.5,773.6 1389.0,778.0 1402.4,781.0 1415.9,793.0 1429.4,771.4 1442.9,775.6 1456.4,779.4 1469.9,792.4 1483.4,787.0 1496.9,781.0 1510.4,788.6 1523.9,802.0 1537.4,818.0 1550.9,806.4 1564.4,802.4 1577.9,802.4 1591.4,802.4 1604.9,809.6 1618.4,811.0 1631.9,815.0 1645.4,815.4 1658.9,805.6 1672.4,795.4" fill="none" stroke="#7e57c2" stroke-width="2.8" stroke-linejoin="round" stroke-linecap="round"/>
</g>
<path d="M1999,315.1 H2145 Q2149,315.1 2149,319.1 V354.90000000000003 Q2149,358.90000000000003 2145,358.90000000000003 H1999 Z" fill="#ff9800"/>
<path d="M1999,443.1 H2145 Q2149,443.1 2149,447.1 V482.8 Q2149,486.8 2145,486.8 H1999 Z" fill="#2c8553"/>
<path d="M1999,640 H2097.9 Q2101.9,640 2101.9,644 V678 Q2101.9,682 2097.9,682 H1999 Z" fill="#fccbcd"/>
<path d="M1999,682 H2113 Q2117,682 2117,686 V722 Q2117,726 2113,726 H1999 Z" fill="#ff6d00" clip-path="url(#cMacdAx)"/>
<path d="M1999,774 H2102.9 Q2106.9,774 2106.9,778 V813.9 Q2106.9,817.9 2102.9,817.9 H1999 Z" fill="#7e57c2"/>
<text id="ti0" x="20.43" y="48.6" font-size="30.0" fill="#45464f" stroke="#45464f" stroke-width="0.4" textLength="62.02" lengthAdjust="spacingAndGlyphs">Gold</text>
<text id="ti1" x="90.41" y="48.6" font-size="30.0" fill="#45464f" stroke="#45464f" stroke-width="0.4" textLength="36.27" lengthAdjust="spacingAndGlyphs">US</text>
<text id="ti2" x="134.43" y="48.6" font-size="30.0" fill="#45464f" stroke="#45464f" stroke-width="0.4" textLength="92.22" lengthAdjust="spacingAndGlyphs">Dollars</text>
<text id="ti3" x="235.61" y="48.6" font-size="30.0" fill="#45464f" stroke="#45464f" stroke-width="0.4" textLength="38.40" lengthAdjust="spacingAndGlyphs">per</text>
<text id="ti4" x="290.22" y="48.6" font-size="30.0" fill="#45464f" stroke="#45464f" stroke-width="0.4" textLength="83.51" lengthAdjust="spacingAndGlyphs">Ounce</text>
<text id="ti5" x="382.88" y="48.6" font-size="30.0" fill="#45464f" stroke="#45464f" stroke-width="0.4" textLength="57.37" lengthAdjust="spacingAndGlyphs">Spot</text>
<text id="ti6" x="451.67" y="48.6" font-size="30.0" fill="#45464f" stroke="#45464f" stroke-width="0.4" textLength="88.04" lengthAdjust="spacingAndGlyphs">Prices,</text>
<text id="ti7" x="550.00" y="48.6" font-size="30.0" fill="#45464f" stroke="#45464f" stroke-width="0.4" textLength="31.71" lengthAdjust="spacingAndGlyphs">4h</text>
<text id="O" x="599.45" y="48.6" font-size="30.0" fill="#45464f" stroke="#45464f" stroke-width="0.4" textLength="20.31" lengthAdjust="spacingAndGlyphs">O</text>
<text id="Ov" x="621.10" y="48.6" font-size="30.2" fill="#2c8553" stroke="#2c8553" stroke-width="0.4" textLength="114.50" lengthAdjust="spacingAndGlyphs">4,561.83</text>
<text id="Hl" x="754.92" y="48.6" font-size="30.0" fill="#45464f" stroke="#45464f" stroke-width="0.4" textLength="19.26" lengthAdjust="spacingAndGlyphs">H</text>
<text id="Hv" x="775.60" y="48.6" font-size="30.2" fill="#2c8553" stroke="#2c8553" stroke-width="0.4" textLength="114.90" lengthAdjust="spacingAndGlyphs">4,581.46</text>
<text id="Ll" x="908.27" y="48.6" font-size="30.0" fill="#45464f" stroke="#45464f" stroke-width="0.4" textLength="15.26" lengthAdjust="spacingAndGlyphs">L</text>
<text id="Lv" x="924.10" y="48.6" font-size="30.2" fill="#2c8553" stroke="#2c8553" stroke-width="0.4" textLength="115.51" lengthAdjust="spacingAndGlyphs">4,556.43</text>
<text id="Cl" x="1057.78" y="48.6" font-size="30.0" fill="#45464f" stroke="#45464f" stroke-width="0.4" textLength="18.85" lengthAdjust="spacingAndGlyphs">C</text>
<text id="Cv" x="1076.40" y="48.6" font-size="30.2" fill="#2c8553" stroke="#2c8553" stroke-width="0.4" textLength="116.60" lengthAdjust="spacingAndGlyphs">4,578.26</text>
<text id="chg1" x="1212.77" y="48.6" font-size="30.2" fill="#2c8553" stroke="#2c8553" stroke-width="0.4" textLength="72.24" lengthAdjust="spacingAndGlyphs">16.40</text>
<text id="chg2" x="1296.30" y="48.6" font-size="30.2" fill="#2c8553" stroke="#2c8553" stroke-width="0.4" textLength="111.62" lengthAdjust="spacingAndGlyphs">(+0.36%)</text>
<text id="ma0" x="19.41" y="90.6" font-size="30.0" fill="#45464f" stroke="#45464f" stroke-width="0.4" textLength="40.08" lengthAdjust="spacingAndGlyphs">MA</text>
<text id="ma1" x="70.42" y="90.6" font-size="30.2" fill="#45464f" stroke="#45464f" stroke-width="0.4" textLength="67.65" lengthAdjust="spacingAndGlyphs">(200,</text>
<text id="ma2" x="147.60" y="90.6" font-size="30.0" fill="#45464f" stroke="#45464f" stroke-width="0.4" textLength="79.61" lengthAdjust="spacingAndGlyphs">close,</text>
<text id="ma3" x="235.20" y="90.6" font-size="30.2" fill="#45464f" stroke="#45464f" stroke-width="0.4" textLength="26.74" lengthAdjust="spacingAndGlyphs">0)</text>
<text id="mav" x="280.60" y="90.6" font-size="30.2" fill="#ff9800" stroke="#ff9800" stroke-width="0.4" textLength="116.01" lengthAdjust="spacingAndGlyphs">4,691.76</text>
<text id="mc0" x="19.67" y="640.6" font-size="30.0" fill="#45464f" stroke="#45464f" stroke-width="0.4" textLength="76.86" lengthAdjust="spacingAndGlyphs">MACD</text>
<text id="mc1" x="106.62" y="640.6" font-size="30.2" fill="#45464f" stroke="#45464f" stroke-width="0.4" textLength="51.27" lengthAdjust="spacingAndGlyphs">(12,</text>
<text id="mc2" x="167.83" y="640.6" font-size="30.2" fill="#45464f" stroke="#45464f" stroke-width="0.4" textLength="40.68" lengthAdjust="spacingAndGlyphs">26,</text>
<text id="mc3" x="220.20" y="640.6" font-size="30.0" fill="#45464f" stroke="#45464f" stroke-width="0.4" textLength="77.86" lengthAdjust="spacingAndGlyphs">close,</text>
<text id="mc4" x="307.80" y="640.6" font-size="30.2" fill="#45464f" stroke="#45464f" stroke-width="0.4" textLength="26.73" lengthAdjust="spacingAndGlyphs">9)</text>
<text id="macd1" x="354.02" y="640.6" font-size="30.2" fill="#fccbcd" stroke="#fccbcd" stroke-width="0.4" textLength="67.37" lengthAdjust="spacingAndGlyphs">-2.25</text>
<text id="macd2" x="441.02" y="640.6" font-size="30.2" fill="#2196f3" stroke="#2196f3" stroke-width="0.4" textLength="83.57" lengthAdjust="spacingAndGlyphs">-41.77</text>
<text id="macd3" x="544.02" y="640.6" font-size="30.2" fill="#ff6d00" stroke="#ff6d00" stroke-width="0.4" textLength="83.57" lengthAdjust="spacingAndGlyphs">-39.52</text>
<text id="rs0" x="18.93" y="756.7" font-size="30.0" fill="#45464f" stroke="#45464f" stroke-width="0.4" textLength="43.51" lengthAdjust="spacingAndGlyphs">RSI</text>
<text id="rs1" x="71.64" y="756.7" font-size="30.2" fill="#45464f" stroke="#45464f" stroke-width="0.4" textLength="52.00" lengthAdjust="spacingAndGlyphs">(14)</text>
<text id="rsiv" x="142.95" y="756.7" font-size="30.2" fill="#7e57c2" stroke="#7e57c2" stroke-width="0.4" textLength="71.46" lengthAdjust="spacingAndGlyphs">38.03</text>
<text id="f0" x="1758.39" y="100.0" font-size="30.2" fill="#787b86" stroke="#787b86" stroke-width="0.4" textLength="164.22" lengthAdjust="spacingAndGlyphs">0 (4,889.59)</text>
<text id="f1" x="1758.40" y="308.9" font-size="30.2" fill="#f23645" stroke="#f23645" stroke-width="0.4" textLength="222.05" lengthAdjust="spacingAndGlyphs">0.236 (4,703.15)</text>
<text id="f2" x="1758.40" y="439.1" font-size="30.2" fill="#ff9800" stroke="#ff9800" stroke-width="0.4" textLength="222.05" lengthAdjust="spacingAndGlyphs">0.382 (4,587.81)</text>
<text id="f3" x="1758.29" y="543.5" font-size="30.2" fill="#4caf50" stroke="#4caf50" stroke-width="0.4" textLength="190.39" lengthAdjust="spacingAndGlyphs">0.5 (4,494.59)</text>
<text id="ax4900" x="2018.90" y="112.0" font-size="30.2" fill="#45464f" stroke="#45464f" stroke-width="0.4" textLength="116.41" lengthAdjust="spacingAndGlyphs">4,900.00</text>
<text id="ax4800" x="2018.90" y="224.5" font-size="30.2" fill="#45464f" stroke="#45464f" stroke-width="0.4" textLength="116.41" lengthAdjust="spacingAndGlyphs">4,800.00</text>
<text id="ax4600" x="2018.90" y="449.5" font-size="30.2" fill="#45464f" stroke="#45464f" stroke-width="0.4" textLength="116.41" lengthAdjust="spacingAndGlyphs">4,600.00</text>
<text id="ax4500" x="2018.90" y="562.0" font-size="30.2" fill="#45464f" stroke="#45464f" stroke-width="0.4" textLength="116.41" lengthAdjust="spacingAndGlyphs">4,500.00</text>
<text id="lma" x="2019.10" y="345.8" font-size="30.2" fill="#000000" stroke="#000000" stroke-width="0.4" textLength="115.51" lengthAdjust="spacingAndGlyphs">4,691.76</text>
<text id="lpx" x="2019.10" y="473.8" font-size="30.2" fill="#ffffff" stroke="#ffffff" stroke-width="0.4" textLength="116.91" lengthAdjust="spacingAndGlyphs">4,578.26</text>
<text id="lh" x="2020.02" y="673.0" font-size="30.2" fill="#000000" stroke="#000000" stroke-width="0.4" textLength="67.48" lengthAdjust="spacingAndGlyphs">-2.25</text>
<text id="ls" x="2020.03" y="715.2" font-size="30.2" fill="#ffffff" stroke="#ffffff" stroke-width="0.4" textLength="82.93" lengthAdjust="spacingAndGlyphs" clip-path="url(#cMacdAx)">-39.52</text>
<text id="lr" x="2019.32" y="807.1" font-size="30.2" fill="#ffffff" stroke="#ffffff" stroke-width="0.4" textLength="73.79" lengthAdjust="spacingAndGlyphs">38.03</text>
<text id="apr" x="22.60" y="875.5" font-size="30.0" fill="#45464f" stroke="#45464f" stroke-width="0.4" font-weight="bold" text-anchor="end">Apr</text>
<text id="t7" x="246.56" y="875.6" font-size="30.2" fill="#45464f" stroke="#45464f" stroke-width="0.4" textLength="17.36" lengthAdjust="spacingAndGlyphs">7</text>
<text id="t10" x="481.87" y="875.6" font-size="30.2" fill="#45464f" stroke="#45464f" stroke-width="0.4" textLength="32.49" lengthAdjust="spacingAndGlyphs">10</text>
<text id="t15" x="739.37" y="875.6" font-size="30.2" fill="#45464f" stroke="#45464f" stroke-width="0.4" textLength="30.65" lengthAdjust="spacingAndGlyphs">15</text>
<text id="t19" x="981.70" y="875.6" font-size="30.2" fill="#45464f" stroke="#45464f" stroke-width="0.4" textLength="31.63" lengthAdjust="spacingAndGlyphs">19</text>
<text id="t23" x="1237.65" y="875.6" font-size="30.2" fill="#45464f" stroke="#45464f" stroke-width="0.4" textLength="31.27" lengthAdjust="spacingAndGlyphs">23</text>
<text id="t28" x="1493.84" y="875.6" font-size="30.2" fill="#45464f" stroke="#45464f" stroke-width="0.4" textLength="31.48" lengthAdjust="spacingAndGlyphs">28</text>
<text id="may" x="1724.07" y="875.5" font-size="30.0" fill="#45464f" stroke="#45464f" stroke-width="0.4" textLength="55.49" lengthAdjust="spacingAndGlyphs" font-weight="bold">May</text>
<text id="t4" x="1996.00" y="875.6" font-size="30.2" fill="#45464f" stroke="#45464f" stroke-width="0.4" clip-path="url(#cTime)" text-anchor="middle">4</text>
<rect x="0" y="0" width="2" height="901" fill="#eff1f5"/>
</svg>
</body></html>
